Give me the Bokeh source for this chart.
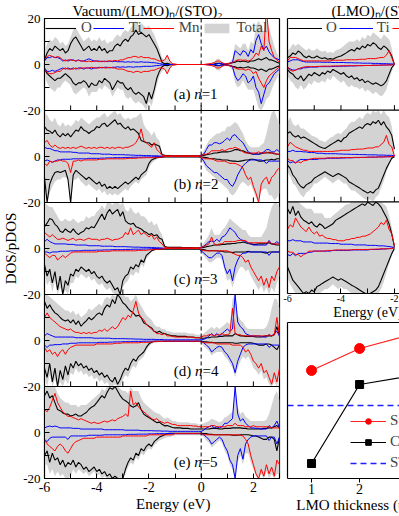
import math
from bokeh.plotting import figure
from bokeh.layouts import row, column
from bokeh.models import Range1d, FixedTicker, Span, Label, Legend, LegendItem, LinearAxis
from bokeh.embed import file_html
from bokeh.resources import INLINE

SERIF = "Liberation Serif"
O_COLOR, TI_COLOR, MN_COLOR, TOT_COLOR = "black", "#0000ff", "#ff0000", "#d3d3d3"
NBSP = "\u00a0"

# ---------------- data ----------------
ENERGY = [round(-6 + 0.1 * i, 1) for i in range(91)]      # left panels, -6 .. 3 eV
ENERGY_R = [round(-6 + 0.1 * i, 1) for i in range(41)]    # right panels, -6 .. -2 eV
E_LABELLED = [-6, -4, -2, 0, 2]
E_MINOR = [-5, -3, -1, 1, 3]
E_TICKS = E_LABELLED + E_MINOR
R_LABELLED = [-6, -4, -2]
R_MINOR = [-5, -3]
R_TICKS = R_LABELLED + R_MINOR

# panel (a) n=1
a_total_up = [6, 9, 11, 10, 12, 11, 9, 10, 8, 9,
              12, 15, 16, 14, 12, 10, 11, 12, 10, 11,
              10, 12, 10, 11, 9, 10, 10, 12, 13, 12,
              14, 15, 14, 16, 17, 19, 17, 18, 17, 16,
              17, 15, 13, 10, 7, 3, 2, 4.5, 2, 0.5,
              0.3, 0, 0, 0, 0, 0, 0, 0, 0, 0,
              0, 0, 0.3, 0.5, 0.8, 1.2, 2.5, 2.5, 1.2, 0.5,
              0.8, 1.2, 2.5, 9, 8, 7, 9, 9, 6, 10,
              9, 17, 19, 17, 14, 20, 16, 12, 8, 5,
              3]
a_total_dn = [-5, -8, -10, -11, -12, -10, -10, -8, -7, -8,
              -9, -12, -13, -12, -11, -10, -11, -14, -12, -12,
              -12, -10, -11, -9, -10, -11, -14, -12, -10, -11,
              -11, -14, -15, -14, -16, -17, -16, -17, -18, -20,
              -16, -18, -14, -9, -5, -3, -2, -4.5, -2, -0.5,
              -0.3, 0, 0, 0, 0, 0, 0, 0, 0, 0,
              0, 0, -0.3, -0.5, -0.8, -1.2, -2.5, -2.5, -1.2, -0.5,
              -0.8, -1.2, -2.5, -8, -10, -9, -7, -9, -11, -11,
              -11, -15, -19, -20, -18, -15, -14, -11, -8, -6,
              -4]
a_O_up = [2, 5, 7, 6, 8, 7, 6, 7, 5, 6,
          9, 11, 12, 10, 8, 6, 7, 8, 6, 7,
          6, 8, 6, 7, 5, 6, 6, 8, 9, 8,
          10, 11, 10, 12, 13, 15, 13, 14, 13, 12,
          13, 11, 9, 7, 4, 1, 0.3, 0.5, 0.2, 0,
          0, 0, 0, 0, 0, 0, 0, 0, 0, 0,
          0, 0, 0, 0, 0, 0.2, 0.5, 0.5, 0.2, 0,
          0.2, 0.5, 0.8, 1, 1.5, 1.2, 1.5, 1.3, 1, 1.5,
          1.5, 2, 2.5, 2, 2.5, 3, 2, 2, 1.5, 1,
          0.5]
a_O_dn = [-2, -4, -5, -6, -7, -6, -6, -5, -4, -5,
          -6, -8, -9, -8, -8, -7, -8, -10, -8, -9,
          -9, -7, -8, -6, -7, -8, -11, -9, -7, -8,
          -8, -10, -11, -10, -12, -13, -12, -13, -14, -17,
          -12, -15, -11, -6, -3, -1, -0.3, -0.5, -0.2, 0,
          0, 0, 0, 0, 0, 0, 0, 0, 0, 0,
          0, 0, 0, 0, 0, -0.2, -0.5, -0.5, -0.2, 0,
          -0.2, -0.5, -0.8, -1, -1.5, -1.2, -1.5, -1.3, -1, -1.5,
          -1.5, -2, -2.5, -2, -2.5, -3, -2, -2, -1.5, -1,
          -0.5]
a_Ti_up = [1.5, 3, 3, 3.5, 3, 3, 2.5, 1.5, 2, 1.5,
           2, 2, 1.5, 2, 1.5, 1.5, 2, 2.5, 2, 1.5,
           1.5, 1.5, 1.2, 1.5, 1.2, 1.5, 1.2, 1.5, 1.2, 1.2,
           1.2, 1, 1.2, 1, 1.2, 1, 1, 1.2, 1, 1,
           1, 0.8, 0.8, 0.6, 0.4, 0.2, 0, 0, 0, 0,
           0, 0, 0, 0, 0, 0, 0, 0, 0, 0,
           0, 0, 0, 0, 0, 0, 0.3, 0.5, 0.3, 0.2,
           0.3, 0.5, 1, 6, 5, 4, 6, 5.5, 3.5, 6.5,
           5, 10.5, 13, 9, 6.5, 8, 5.5, 4, 3, 2.5,
           2]
a_Ti_dn = [-1.5, -3, -3, -2.5, -3, -2.5, -2, -1.5, -2, -1.5,
           -2, -1.5, -2, -1.5, -1.5, -2, -1.5, -1.5, -2, -1.5,
           -1.5, -1.2, -1.5, -1.2, -1.2, -1.5, -1.2, -1.2, -1, -1.2,
           -1, -1.2, -1, -1, -1.2, -1, -1, -1, -0.8, -0.8,
           -0.8, -0.8, -0.6, -0.5, -0.4, -0.2, 0, 0, 0, 0,
           0, 0, 0, 0, 0, 0, 0, 0, 0, 0,
           0, 0, 0, 0, 0, 0, -0.3, -0.5, -0.3, -0.2,
           -0.3, -0.5, -1, -5, -7, -6, -4, -5, -8, -7,
           -5, -10, -12, -17, -13, -9, -8, -6, -4, -3,
           -2]
a_Mn_up = [2, 3.5, 4, 3.5, 3, 3.5, 3, 2, 1.5, 2,
           2, 1.8, 1.5, 1.8, 1.5, 1.5, 1.2, 1.5, 1.2, 1.5,
           1.5, 1.2, 1.5, 1.2, 1.5, 1.5, 1.5, 1.8, 1.5, 2,
           2, 2.5, 3, 3, 3.5, 3.5, 3, 3.5, 3, 3,
           3, 2.5, 2.5, 2, 1.5, 1.5, 2, 4, 1.5, 0.3,
           0.2, 0, 0, 0, 0, 0, 0, 0, 0, 0,
           0, 0, 0.2, 0.3, 0.5, 0.8, 1.5, 1.5, 0.8, 0.3,
           0.3, 0.5, 1, 1.5, 2, 2, 1.8, 2, 1.5, 2,
           3, 5, 4, 8, 6, 25, 10, 6, 3, 2,
           1]
a_Mn_dn = [-2, -3.5, -4, -4, -3.5, -3, -3, -2, -1.5, -2,
           -2, -2, -1.5, -2, -1.5, -1.5, -1.5, -1.5, -1.2, -1.5,
           -1.5, -1.5, -1.2, -1.5, -1.5, -1.2, -1.5, -1.5, -2, -2,
           -2, -2.5, -3, -3, -3.5, -3, -3, -3.5, -3, -3,
           -3, -2.5, -2.5, -2, -1.5, -1.5, -2, -4, -1.5, -0.3,
           -0.2, 0, 0, 0, 0, 0, 0, 0, 0, 0,
           0, 0, -0.2, -0.3, -0.5, -0.8, -1.5, -1.5, -0.8, -0.3,
           -0.3, -0.5, -1, -1.5, -2, -2, -2, -2.5, -2, -2.5,
           -4, -3, -6, -8, -10, -7, -5, -4, -3, -2,
           -1]

# panel (b) n=2
b_total_up = [19, 18, 16, 15, 17, 14, 13, 15, 13, 14,
              13, 14, 16, 15, 17, 16, 15, 14, 15, 16,
              17, 17, 18, 19, 17, 18, 19, 20, 18, 19,
              17, 16, 17, 16, 17, 17, 18, 19, 14, 12,
              11, 9, 11, 8, 7, 1.5, 1, 0.8, 0.8, 0.6,
              0.6, 0.6, 0.6, 0.6, 0.6, 0.6, 0.6, 0.6, 0.6, 0.6,
              1, 2.5, 5, 7, 8, 9, 10, 10, 11, 11,
              13, 13, 14, 15, 14, 12, 10, 7, 5, 4,
              4, 4, 4, 5, 6, 10, 15, 19, 20, 17,
              14]
b_total_dn = [-13, -20, -16, -13, -11, -10, -10, -9, -9, -10,
              -20, -10, -10, -9, -11, -12, -13, -12, -13, -14,
              -15, -14, -16, -15, -17, -16, -17, -16, -17, -16,
              -15, -14, -15, -13, -12, -11, -12, -10, -9, -8,
              -5, -3, -2, -1.2, -0.8, -0.6, -0.4, -0.4, -0.4, -0.4,
              -0.4, -0.4, -0.4, -0.4, -0.4, -0.4, -0.4, -0.4, -0.4, -0.4,
              -1, -3.5, -6, -7, -8, -9, -10, -11, -12, -13,
              -14, -16, -17, -16, -14, -12, -11, -12, -13, -12,
              -15, -18, -20, -15, -14, -14, -17, -17, -19, -18,
              -16]
b_O_up = [13, 11.5, 11, 10, 11.5, 9.5, 8.5, 10, 9, 10,
          8.5, 10, 11.5, 11, 13, 11.5, 11, 10, 11, 11.5,
          13, 12.5, 14, 14.5, 13, 14, 15, 16, 14, 14.5,
          13, 12, 13, 11.5, 12, 11, 10, 7, 6.5, 6,
          6, 5, 5.5, 5, 4.5, 0.8, 0.5, 0.4, 0.4, 0.3,
          0.3, 0.3, 0.3, 0.3, 0.3, 0.3, 0.3, 0.3, 0.3, 0.3,
          0.3, 0.5, 0.8, 1, 1.2, 1.5, 1.5, 1.8, 2, 2,
          2, 2.2, 2.5, 3, 3, 2.5, 2.5, 2, 1.5, 1.2,
          1, 1.2, 1, 1.2, 1.5, 1.5, 1.8, 1.5, 1.2, 1,
          1]
b_O_dn = [-9, -20, -12, -9, -7, -6.5, -7, -6.5, -6, -10,
          -20, -8, -6, -7, -8, -9, -10, -9, -10, -11,
          -12, -11, -13, -12, -14, -13, -14, -13, -14, -13,
          -12, -11, -12, -11, -10, -9, -10, -8, -7, -6,
          -3, -1.5, -1, -0.5, -0.3, -0.3, -0.2, -0.2, -0.2, -0.2,
          -0.2, -0.2, -0.2, -0.2, -0.2, -0.2, -0.2, -0.2, -0.2, -0.2,
          -0.2, -0.3, -0.5, -0.8, -1, -1, -1.2, -1.2, -1.5, -1.5,
          -1.5, -1.8, -2, -2, -2.2, -2, -1.8, -1.5, -1.5, -1.2,
          -1.2, -1.5, -2, -2, -1.8, -1.5, -1.5, -1.2, -1.5, -1,
          -1]
b_Ti_up = [4, 3.5, 3.5, 3, 2.5, 2.5, 2, 2, 2, 2,
           2, 1.8, 1.8, 1.5, 1.5, 1.5, 1.5, 1.5, 1.2, 1.2,
           1.2, 1.2, 1, 1, 1, 1, 0.8, 0.8, 0.8, 0.8,
           0.8, 0.7, 0.7, 0.6, 0.6, 0.5, 0.5, 0.5, 0.4, 0.4,
           0.4, 0.3, 0.3, 0.3, 0.2, 0.1, 0, 0, 0, 0,
           0, 0, 0, 0, 0, 0, 0, 0, 0, 0,
           0.5, 1, 3, 5, 5, 6, 6, 5.5, 6, 7,
           8, 7, 9, 9.5, 8, 7, 6, 4, 2, 1.5,
           1, 1, 1, 1.5, 2, 3, 3, 2, 2, 3,
           2]
b_Ti_dn = [-2, -1.5, -2, -2.5, -2, -1.5, -1.5, -1.2, -1.2, -1.2,
           -1.2, -1, -1, -1, -1, -1, -1, -0.8, -0.8, -0.8,
           -0.8, -0.8, -0.7, -0.7, -0.6, -0.6, -0.6, -0.5, -0.5, -0.5,
           -0.5, -0.4, -0.4, -0.4, -0.3, -0.3, -0.3, -0.3, -0.2, -0.2,
           -0.2, -0.2, -0.1, 0, 0, 0, 0, 0, 0, 0,
           0, 0, 0, 0, 0, 0, 0, 0, 0, 0,
           -0.5, -2, -4, -5, -6, -7, -7, -8, -9, -10,
           -10, -12, -13, -11, -8, -6, -4, -3, -2, -1.5,
           -1.5, -1.5, -1.5, -1.5, -2, -3, -2, -2, -2, -2,
           -2]
b_Mn_up = [6, 7, 5, 4, 5, 4, 3.5, 4, 3.5, 4,
           3.5, 4, 3.5, 4, 4.5, 4, 3.5, 4, 3.5, 4,
           3.5, 4, 4, 3.5, 4, 3.5, 4, 3.5, 4, 4,
           3.5, 4, 4, 4.5, 5, 6, 8, 12, 7, 6,
           5, 4, 6, 3, 2, 0.5, 0.4, 0.3, 0.3, 0.3,
           0.3, 0.3, 0.3, 0.3, 0.3, 0.3, 0.3, 0.3, 0.3, 0.3,
           0.3, 1, 1, 1.5, 2.5, 2.5, 2.5, 2.5, 3, 2.5,
           3, 3.5, 3.5, 4, 3.5, 3, 2, 1.5, 1.5, 1.5,
           1.5, 1.5, 2, 1.5, 1.5, 2, 1.5, 1.5, 1.5, 1,
           1]
b_Mn_dn = [-3, -4, -2, -2.5, -2, -2, -1.5, -2, -2, -3,
           -7, -2, -2, -1.5, -2, -1.5, -1.5, -1.5, -1.5, -1.5,
           -1.5, -1.2, -1.2, -1.2, -1, -1, -1, -1, -1, -1,
           -1, -1, -0.8, -0.8, -0.8, -0.8, -0.6, -0.6, -0.6, -0.5,
           -0.5, -0.5, -0.5, -0.4, -0.3, -0.2, 0, 0, 0, 0,
           0, 0, 0, 0, 0, 0, 0, 0, 0, 0,
           -0.3, -1, -1, -1, -1, -1.5, -2, -2, -2, -2,
           -2.5, -3, -3, -3, -3.5, -4, -5, -8, -10, -9,
           -13, -16, -20, -12, -10, -9, -12, -9, -8, -6,
           -5]

# panel (c) n=3
c_total_up = [20, 19, 18, 18, 16, 14, 12, 12, 13, 12,
              12, 13, 12, 11, 12, 12, 14, 13, 14, 14,
              16, 17, 19, 17, 20, 20, 19, 20, 20, 19,
              20, 17, 16, 18, 16, 15, 16, 14, 14, 13,
              11, 12, 10, 11, 8, 6, 1.5, 0.8, 0.8, 0.8,
              0.8, 0.8, 0.8, 0.7, 0.7, 0.7, 0.7, 0.6, 0.6, 0.6,
              1, 2.5, 4, 6, 9, 6, 6, 6, 8, 9,
              11, 13, 12, 11, 10, 9, 8, 8, 6, 5,
              5, 5, 5, 5, 7, 9, 14, 18, 20, 20,
              18]
c_total_dn = [-11, -16, -14, -19, -14, -20, -17, -20, -18, -20,
              -15, -15, -12, -13, -11, -12, -13, -12, -14, -13,
              -15, -16, -15, -17, -18, -17, -19, -20, -20, -20,
              -17, -15, -14, -11, -12, -10, -11, -7, -8, -4.5,
              -3, -1.5, -1, -0.6, -0.6, -0.5, -0.4, -0.4, -0.4, -0.4,
              -0.4, -0.4, -0.4, -0.4, -0.4, -0.4, -0.4, -0.4, -0.4, -0.4,
              -1.5, -3, -4.5, -6, -6, -5, -4, -4, -5, -10,
              -14, -13, -17, -13, -10, -8, -8, -10, -9, -12,
              -14, -16, -18, -16, -19, -17, -20, -17, -19, -15,
              -12]
c_O_up = [9.5, 11, 13, 12.5, 10.5, 9.5, 7.5, 7, 8.5, 7.5,
          7, 8.5, 7, 6, 7, 7.5, 9, 8.5, 9.5, 9,
          11, 13, 15, 12.5, 15.5, 17, 15, 16, 17, 14,
          16, 12, 11, 10.5, 11, 9.5, 9, 8.5, 7.5, 7,
          6, 6.5, 5.5, 6, 4.5, 4, 1, 0.5, 0.5, 0.5,
          0.5, 0.5, 0.5, 0.4, 0.4, 0.4, 0.4, 0.3, 0.3, 0.3,
          0.3, 0.5, 0.8, 1, 1.2, 1.5, 1.5, 1.5, 1.8, 1.8,
          2, 2, 2.2, 2.2, 2.5, 2.5, 2.8, 2.5, 2.2, 2,
          1.8, 1.8, 2, 2, 2, 2.2, 2.5, 2, 1.8, 1.5,
          1.5]
c_O_dn = [-7, -12, -9, -15, -10, -18, -12, -20, -14, -16,
          -11, -12, -9, -10, -8, -9, -10, -9, -11, -10,
          -12, -13, -12, -14, -15, -14, -16, -18, -17, -20,
          -14, -12, -11, -8, -9, -7, -8, -5, -6, -3,
          -2, -1, -0.5, -0.3, -0.3, -0.3, -0.3, -0.3, -0.3, -0.3,
          -0.3, -0.3, -0.3, -0.3, -0.3, -0.3, -0.3, -0.3, -0.3, -0.3,
          -0.3, -0.5, -0.8, -1, -1, -1, -1, -1.2, -1.2, -1.5,
          -1.5, -1.5, -1.8, -1.5, -1.5, -1.5, -1.5, -1.5, -1.2, -1.5,
          -1.5, -1.5, -1.5, -1.5, -1.8, -2, -1.5, -1.5, -1.5, -1.5,
          -1.5]
c_Ti_up = [3, 4, 3, 2.5, 2, 2, 2, 2, 2, 1.8,
           1.8, 1.8, 1.5, 1.5, 1.5, 1.5, 1.5, 1.2, 1.2, 1.2,
           1.2, 1.2, 1, 1, 1, 1, 1, 0.8, 0.8, 0.8,
           0.8, 0.8, 0.7, 0.7, 0.6, 0.6, 0.6, 0.5, 0.5, 0.5,
           0.5, 0.4, 0.4, 0.3, 0.3, 0.2, 0.1, 0, 0, 0,
           0, 0, 0, 0, 0, 0, 0, 0, 0, 0,
           0.5, 1, 2, 3, 3.2, 3, 4, 3, 5, 5.5,
           7, 9, 8, 7, 5, 4, 3.5, 3, 2.5, 2,
           1.5, 1.5, 1.5, 1.5, 1.5, 1.5, 3.5, 2, 2, 3,
           2]
c_Ti_dn = [-1.5, -1.5, -2, -1.5, -1.5, -1.5, -1.2, -1.2, -1.2, -1.2,
           -1, -1, -1, -1, -1, -0.8, -0.8, -0.8, -0.8, -0.8,
           -0.7, -0.7, -0.7, -0.6, -0.6, -0.6, -0.5, -0.5, -0.5, -0.5,
           -0.5, -0.4, -0.4, -0.4, -0.3, -0.3, -0.3, -0.3, -0.2, -0.2,
           -0.2, -0.1, 0, 0, 0, 0, 0, 0, 0, 0,
           0, 0, 0, 0, 0, 0, 0, 0, 0, 0,
           -1, -2, -3, -4, -4, -3, -2, -2, -3, -8,
           -11, -9, -14, -8, -5, -3, -2, -2, -1.5, -1.5,
           -1.5, -1.5, -1.5, -1.5, -1.5, -1.5, -3, -1.5, -1.5, -1.5,
           -1.5]
c_Mn_up = [7, 6, 5, 6, 5, 4, 4, 4.5, 4, 3.5,
           4, 4.5, 3.5, 4, 4, 3.5, 4, 4.5, 4, 4,
           4, 3.5, 4, 4, 4.5, 4, 3.5, 4, 4, 4.5,
           5, 7, 6, 9, 6, 7, 8, 6, 7, 6,
           5, 6, 4, 5, 3, 2, 0.5, 0.3, 0.3, 0.3,
           0.3, 0.3, 0.3, 0.3, 0.3, 0.3, 0.3, 0.3, 0.3, 0.3,
           0.3, 1, 1.5, 2, 5, 2, 1.5, 2, 2, 3,
           3, 3, 3, 3, 3.5, 3.5, 3.5, 3.5, 2.5, 2.5,
           2.5, 2.5, 2.5, 2.5, 2.5, 2.5, 3, 2, 2, 2,
           2]
c_Mn_dn = [-2, -3, -4, -3, -3, -5, -4, -3, -4, -3,
           -2, -1.5, -1.5, -1.5, -1.5, -1.5, -1.5, -1.5, -1.5, -1.5,
           -1.5, -1.2, -1.2, -1.2, -1.2, -1.2, -1, -1, -1, -1,
           -1, -1, -1, -1, -1, -1, -0.8, -0.8, -0.8, -0.8,
           -0.6, -0.5, -0.5, -0.4, -0.3, -0.2, 0, 0, 0, 0,
           0, 0, 0, 0, 0, 0, 0, 0, 0, 0,
           -0.5, -1, -1, -1, -1, -1, -1, -1, -1, -1,
           -1, -1.5, -2, -2.5, -3, -3, -4, -6, -5, -8,
           -10, -12, -14, -12, -16, -13, -17, -12, -14, -10,
           -8]

# panel (d) n=4
d_total_up = [20, 20, 19, 18, 17, 16, 15, 14, 13, 13,
              12, 13, 11, 12, 10, 11, 12, 14, 13, 14,
              15, 16, 15, 18, 19, 18, 20, 19, 20, 20,
              20, 19, 19, 17, 18, 20, 17, 15, 13, 11,
              10, 9, 7, 6, 6, 5, 5, 4, 4, 3.5,
              3.5, 3.5, 3.5, 3.5, 3.5, 3, 3, 3, 2.5, 2.5,
              2.5, 3, 4, 5, 6, 5, 6, 5, 6, 7,
              8, 7, 18, 20, 11, 9, 8, 6, 5, 5,
              5, 5, 5, 5, 5, 6, 9, 14, 18, 18,
              14]
d_total_dn = [-16, -20, -15, -20, -17, -20, -18, -20, -17, -19,
              -14, -15, -12, -14, -13, -15, -14, -16, -15, -17,
              -16, -18, -17, -19, -18, -20, -20, -19, -20, -20,
              -17, -15, -16, -13, -11, -12, -9, -8, -7, -4.5,
              -2.5, -1.5, -1, -0.8, -0.8, -0.7, -0.6, -0.6, -0.6, -0.6,
              -0.6, -0.6, -0.6, -0.6, -0.6, -0.6, -0.6, -0.6, -0.6, -0.6,
              -1, -2.5, -3.5, -4.5, -6.5, -5.5, -5, -5, -5, -7,
              -8, -10, -12, -16, -12, -9, -7, -8, -7, -9,
              -12, -13, -15, -13, -17, -16, -19, -20, -18, -20,
              -16]
d_O_up = [17, 14, 15.5, 13.5, 12, 11.3, 10, 9, 8.5, 9,
          7.7, 9, 7, 8.5, 6.2, 7.5, 8.5, 10, 9, 10,
          11.3, 12, 11, 14, 15.5, 14.5, 17.8, 16, 20, 18.5,
          16.4, 15.5, 14, 12.8, 12, 10.6, 11, 10, 7.7, 7,
          6.2, 5.5, 4, 3.5, 4, 3.3, 3, 2.6, 2.3, 2,
          2, 1.8, 1.8, 1.8, 1.8, 1.5, 1.5, 1.5, 1.2, 1.2,
          1, 1, 1.2, 1.2, 1.5, 1.5, 1.5, 1.8, 1.8, 2,
          2, 2, 2, 3, 2.5, 2, 2, 1.8, 1.8, 1.8,
          1.8, 1.5, 1.5, 1.5, 1.8, 2, 2, 2, 2.5, 6,
          2]
d_O_dn = [-12, -16, -10, -18, -12, -20, -13, -17, -11, -15,
          -10, -12, -9, -11, -10, -12, -11, -13, -12, -14,
          -13, -15, -14, -16, -15, -17, -18, -16, -19, -17,
          -14, -12, -13, -10, -8, -9, -7, -6, -5, -3,
          -1.5, -0.7, -0.3, -0.3, -0.3, -0.3, -0.3, -0.3, -0.3, -0.3,
          -0.3, -0.3, -0.3, -0.3, -0.3, -0.3, -0.3, -0.3, -0.3, -0.3,
          -0.3, -0.5, -0.6, -0.8, -0.8, -1, -1, -1, -1, -1,
          -1, -1, -1, -1.2, -1.2, -1, -1, -1, -1, -1,
          -1.2, -1.5, -2, -2, -2, -1.5, -1.5, -2, -3, -4,
          -2]
d_Ti_up = [2, 3, 2.5, 2, 1.5, 1.5, 1.5, 1.5, 1.5, 1.5,
           1.5, 1.5, 1.2, 1.2, 1.2, 1.2, 1.2, 1.2, 1.2, 1,
           1, 1, 1, 1, 1, 1, 0.8, 0.8, 0.8, 0.8,
           0.8, 0.8, 0.7, 0.7, 0.7, 0.6, 0.6, 0.6, 0.5, 0.5,
           0.5, 0.5, 0.5, 0.4, 0.4, 0.4, 0.3, 0.3, 0.3, 0.3,
           0.3, 0.3, 0.3, 0.3, 0.3, 0.3, 0.3, 0.3, 0.3, 0.3,
           0.3, 0.5, 1, 2, 3, 2, 3, 2, 3, 4,
           5, 4, 5, 20, 8, 6, 5, 3, 2.5, 2,
           2, 2, 2, 1.8, 1.5, 1.5, 2.5, 2, 3, 4,
           2]
d_Ti_dn = [-2, -3, -2, -2, -1.8, -1.8, -1.8, -1.5, -1.5, -1.5,
           -1.2, -1.2, -1.2, -1, -1, -1, -1, -1, -1, -1,
           -1, -0.8, -0.8, -0.8, -0.8, -0.7, -0.7, -0.6, -0.6, -0.6,
           -0.5, -0.5, -0.5, -0.5, -0.4, -0.4, -0.4, -0.4, -0.3, -0.3,
           -0.3, -0.3, -0.3, -0.3, -0.3, -0.3, -0.3, -0.3, -0.3, -0.3,
           -0.3, -0.3, -0.3, -0.3, -0.3, -0.3, -0.3, -0.3, -0.3, -0.3,
           -0.3, -1, -2, -3, -5, -4, -3, -2.5, -3, -5,
           -6, -8, -10, -14, -9, -6, -3, -2, -1.5, -1.5,
           -1.5, -1.5, -1.5, -1.5, -1.5, -1.5, -3, -2, -2, -2,
           -2]
d_Mn_up = [10, 12, 10, 9, 8, 7, 6, 5.5, 5, 4.5,
           5, 4, 3.5, 3.5, 3, 3.5, 3, 3.5, 3, 3.5,
           3.5, 4.5, 4, 5, 4, 5, 6, 5, 6, 8,
           10, 9, 11, 10, 13, 17, 12, 10, 9, 7,
           6, 5, 4, 3, 3, 2.5, 3, 2, 2, 1.8,
           1.5, 1.5, 1.5, 1.5, 1.5, 1.5, 1.5, 1.2, 1.2, 1.2,
           1.5, 2, 2, 2.5, 2.5, 2, 2.5, 2.5, 3, 2.5,
           2.5, 3, 14, 3, 2.5, 2.5, 2, 2, 2, 2,
           2, 2, 2, 2, 2, 2, 2.5, 2, 2.5, 10,
           2]
d_Mn_dn = [-3, -5, -4, -6, -5, -7, -5, -4, -6, -4,
           -3, -2.5, -2, -2, -2, -2, -2, -2, -2, -2,
           -1.5, -1.5, -1.5, -1.5, -1.5, -1.5, -1.5, -1.2, -1.2, -1.2,
           -1, -1, -1, -1, -1, -1, -1, -0.8, -0.8, -0.8,
           -0.8, -0.6, -0.5, -0.5, -0.4, -0.4, -0.3, -0.3, -0.3, -0.3,
           -0.3, -0.3, -0.3, -0.3, -0.3, -0.3, -0.3, -0.3, -0.3, -0.3,
           -0.5, -1, -1, -1, -1, -1, -1.5, -1.5, -1.5, -1.5,
           -1.5, -1.5, -2, -2, -2, -2, -3, -5, -4, -6,
           -9, -10, -12, -10, -14, -13, -16, -19, -14, -18,
           -12]

# panel (e) n=5
e_total_up = [20, 20, 20, 20, 20, 17, 15, 14, 13, 13,
              12, 12, 12, 11, 12, 12, 12, 13, 14, 15,
              16, 17, 19, 18, 20, 20, 20, 20, 20, 19,
              18, 18, 17, 20, 18, 18, 18, 15, 13, 12,
              11, 10, 9, 8.5, 8, 7, 6, 6.5, 6, 5,
              5, 4.5, 4.5, 4.5, 4.5, 4.5, 4, 4, 4, 3.5,
              3.5, 4, 4.5, 5, 6, 5.5, 5, 4.5, 5, 6.5,
              7, 8, 9, 20, 11, 8, 9, 7, 6, 5,
              5, 5, 5, 5, 5, 5.5, 8, 12, 16, 18,
              14]
e_total_dn = [-14, -14, -18, -16, -19, -17, -19, -18, -20, -20,
              -19, -16, -18, -16, -17, -18, -17, -19, -18, -17,
              -19, -18, -20, -19, -20, -20, -20, -20, -20, -20,
              -20, -18, -15, -13, -14, -11, -12, -9, -10, -8,
              -7, -7.5, -5.5, -4.5, -3.5, -3, -2.5, -2, -2, -1.5,
              -1.2, -1.2, -1.2, -1.2, -1.2, -1.2, -1.2, -1.2, -1.2, -1.2,
              -1.2, -2, -3.5, -4.5, -6.5, -5.5, -4.5, -3.5, -4.5, -8,
              -10, -14, -16, -20, -13, -10, -14, -9, -9, -13,
              -16, -19, -20, -18, -20, -17, -20, -18, -20, -18,
              -18]
e_O_up = [16, 18, 15, 16, 13, 10, 9.5, 8.5, 8, 8,
          7.2, 7.5, 8, 7.2, 7.2, 8, 8.7, 10, 11, 11.6,
          13, 14.5, 16, 15, 17.5, 19.5, 18.8, 20, 18, 16,
          14.5, 13.8, 13, 11.6, 11, 11.6, 13, 10, 8, 7.2,
          6.5, 5.8, 5, 4.3, 4.5, 3.6, 2.9, 3, 2.6, 2.2,
          2, 2, 2, 1.8, 1.8, 1.8, 1.5, 1.5, 1.5, 1.5,
          1.5, 1.5, 1.5, 1.5, 1.8, 1.8, 1.8, 1.5, 1.5, 1.8,
          1.8, 1.8, 2, 2, 2, 2, 1.8, 1.8, 1.5, 1.5,
          1.5, 1.5, 1.5, 1.5, 1.8, 1.8, 2, 2, 2.5, 3,
          2]
e_O_dn = [-10, -8, -13, -9, -12, -11, -14, -12, -15, -13,
          -14, -12, -15, -13, -14, -16, -15, -17, -16, -15,
          -17, -16, -18, -17, -19, -18, -20, -19, -20, -20,
          -20, -16, -13, -11, -12, -9, -10, -7, -8, -6,
          -5, -6, -4, -3, -2, -1.5, -1, -0.5, -0.4, -0.3,
          -0.3, -0.3, -0.3, -0.3, -0.3, -0.3, -0.3, -0.3, -0.3, -0.3,
          -0.3, -0.5, -0.5, -0.8, -0.8, -1, -1, -1, -1, -1,
          -1, -1, -1.2, -1.2, -1.2, -1, -1, -1, -1, -1.2,
          -1.5, -1.5, -2, -2.5, -3, -3, -2, -2, -3, -8,
          -2]
e_Ti_up = [2, 2.5, 2.8, 2.5, 2.8, 2.5, 2, 2, 2, 2,
           2, 1.8, 1.8, 1.8, 1.5, 1.5, 1.5, 1.5, 1.5, 1.5,
           1.5, 1.5, 1.5, 1.2, 1.2, 1.2, 1.2, 1.2, 1.2, 1.2,
           1.2, 1, 1, 1, 1, 1, 1, 0.8, 0.8, 0.8,
           0.8, 0.8, 0.7, 0.7, 0.7, 0.6, 0.6, 0.6, 0.5, 0.5,
           0.5, 0.5, 0.5, 0.5, 0.5, 0.5, 0.5, 0.5, 0.5, 0.5,
           0.5, 1, 2, 2.5, 3, 2, 2.5, 2, 2.5, 4,
           4, 5, 6, 20, 8, 5, 6, 4, 3, 2,
           2, 1.8, 1.8, 1.5, 1.5, 1.5, 3, 2, 3, 5,
           2]
e_Ti_dn = [-3, -4, -2.5, -2, -2, -2, -2, -2, -2, -3,
           -1.5, -1.5, -1.5, -1.5, -1.5, -1.5, -1.5, -1.2, -1.2, -1.2,
           -1.2, -1.2, -1.2, -1, -1, -1, -1, -1, -1, -1,
           -1, -1, -0.8, -0.8, -0.8, -0.8, -0.7, -0.7, -0.7, -0.7,
           -0.6, -0.6, -0.6, -0.5, -0.5, -0.5, -0.5, -0.5, -0.5, -0.5,
           -0.5, -0.5, -0.5, -0.5, -0.5, -0.5, -0.5, -0.5, -0.5, -0.5,
           -0.5, -1, -2, -3, -5, -4, -3, -2, -3, -6,
           -8, -12, -14, -20, -10, -7, -11.6, -5, -3, -2,
           -1.5, -1.5, -1.5, -1.5, -1.5, -1.5, -3.5, -2, -2, -5,
           -2]
e_Mn_up = [10, 9, 11, 14, 17, 13, 11, 9, 8, 7,
           7, 6.5, 6, 5.5, 6, 5.5, 5, 4.5, 4, 4.5,
           4, 4, 4.5, 5, 4.5, 5, 5.5, 5, 6, 6.5,
           7, 8, 7, 18, 12, 13, 11, 10, 9, 8,
           7, 6, 5.5, 6, 5, 4.5, 4, 4.5, 4, 3.5,
           3.5, 3, 3, 3, 3, 3, 3, 2.8, 2.8, 2.5,
           2.5, 2.5, 2.5, 2.5, 3, 3, 2.5, 2.5, 2.5, 2.5,
           3, 3, 3, 4, 3, 3, 3, 2.5, 2.5, 2.5,
           3, 2.5, 2.5, 2.5, 2.5, 2.5, 2.5, 2, 2, 2,
           2]
e_Mn_dn = [-3, -5, -6, -7, -8, -6, -5, -6, -8, -9,
           -7, -5, -4, -3.5, -3, -2.5, -2.5, -2.5, -2.5, -2.5,
           -2, -2, -2, -2, -2, -2, -2, -2, -2, -2,
           -1.5, -1.5, -1.5, -1.5, -1.5, -1.5, -1.5, -1.5, -1.5, -1.5,
           -1, -1, -1, -1, -1, -1, -1, -1, -1, -1,
           -0.5, -0.5, -0.5, -0.5, -0.5, -0.5, -0.5, -0.5, -0.5, -0.5,
           -0.5, -1, -1, -1, -1, -1, -1, -1, -1, -1,
           -1, -1, -1, -1, -1, -1.2, -1.5, -3, -5, -10,
           -14, -18, -20, -16, -19, -14, -18, -15, -19, -12,
           -14]

# right column, top panel
ra_total_up = [6, 7, 9, 8, 9, 8, 7, 6, 7, 6,
               6, 7, 6, 5.5, 6, 5, 5.5, 5, 6, 6.5,
               7, 8, 9, 10, 10, 10, 11, 10, 12, 11,
               13, 12, 14, 13, 12, 11, 13, 12, 11, 7,
               0]
ra_total_dn = [-5, -7, -8, -10, -11, -9, -11, -10, -8, -9,
               -7, -8, -8, -7, -8, -6, -7, -5, -6, -7,
               -8, -7, -9, -10, -9, -10, -10, -11, -10, -12,
               -11, -12, -13, -12, -13, -14, -13, -11, -7, -3,
               0]
ra_O_up = [2.9, 3.6, 5, 4.3, 5.8, 5, 3.6, 2.9, 3.6, 2.9,
           2.9, 3.6, 2.9, 2.5, 2.9, 2.2, 2.5, 2.2, 2.9, 3.3,
           3.6, 4.3, 5, 5.8, 6.5, 5.8, 7.2, 6.5, 8, 7.2,
           8.7, 8, 9.4, 8.7, 7.2, 6.5, 8, 7.2, 5.8, 3.6,
           0]
ra_O_dn = [-2.2, -3.6, -4.3, -5.8, -6.5, -5, -7.2, -5.8, -4.3, -5,
           -3.6, -4.3, -5, -3.6, -4.3, -2.9, -3.6, -2.2, -2.9, -3.6,
           -4.3, -3.6, -5, -5.8, -5, -6.5, -5.8, -7.2, -6.5, -8,
           -7.2, -8, -8.7, -8, -8.7, -9.4, -8.7, -7.2, -4.3, -1.5,
           0]
ra_Ti_up = [1, 1.5, 2, 2, 2, 1.5, 1.2, 1, 1, 1,
            1, 1, 1, 0.9, 0.9, 0.9, 0.9, 0.8, 0.8, 0.8,
            0.8, 0.8, 0.7, 0.7, 0.7, 0.6, 0.6, 0.6, 0.5, 0.5,
            0.5, 0.5, 0.4, 0.4, 0.4, 0.3, 0.3, 0.3, 0.2, 0.2,
            0]
ra_Ti_dn = [-1.5, -2, -2.5, -2.5, -2, -2, -1.5, -1.5, -1.2, -1.2,
            -1.2, -1.2, -1, -1, -1, -1, -1, -0.9, -0.9, -0.9,
            -0.8, -0.8, -0.8, -0.7, -0.7, -0.7, -0.6, -0.6, -0.6, -0.5,
            -0.5, -0.5, -0.4, -0.4, -0.4, -0.3, -0.3, -0.3, -0.2, -0.2,
            0]
ra_Mn_up = [1.5, 3, 3, 3, 2.5, 2, 1.5, 1.5, 1.5, 1.5,
            1.5, 1.5, 1.5, 1.5, 1.5, 1.5, 1.5, 1.8, 1.8, 1.8,
            1.8, 1.8, 2, 2, 2, 2, 2, 2.2, 2.2, 2.2,
            2.5, 2.5, 2.5, 2.5, 2.8, 3, 3, 4, 6, 3,
            0]
ra_Mn_dn = [-1, -2.5, -3, -2.5, -2, -1.5, -1.2, -1, -1, -1,
            -1, -0.9, -0.9, -0.8, -0.8, -0.8, -0.8, -0.7, -0.7, -0.7,
            -0.7, -0.6, -0.6, -0.6, -0.6, -0.6, -0.6, -0.5, -0.5, -0.5,
            -0.5, -0.5, -0.4, -0.4, -0.4, -0.4, -0.3, -0.3, -0.3, -0.3,
            0]

# right column, middle panel
rb_total_up = [15, 17, 14, 13, 14, 12, 12, 11, 10, 9,
               8.5, 8, 7, 6.5, 6, 7, 8, 8.5, 9.5, 10,
               9.5, 11, 12, 14, 15, 15, 16, 17, 16, 18,
               19, 18, 20, 19, 20, 18, 20, 18, 17, 13,
               3]
rb_total_dn = [-7, -9, -12, -13, -15, -17, -18, -16, -15, -14,
               -12, -12, -11, -10, -9, -10, -11, -12, -11, -10,
               -11, -12, -12, -14, -15, -15, -16, -17, -18, -19,
               -19, -19, -20, -18, -17, -14, -11, -7, -4, -1.5,
               -0.5]
rb_O_up = [9.9, 10.6, 9, 8.3, 9, 7.7, 8.3, 7.7, 7, 6.2,
           5.5, 4.8, 4, 3.6, 3.3, 4, 4.8, 5.5, 6.2, 7,
           6.2, 7.7, 8.3, 9.9, 10.6, 11.3, 12, 12.7, 12, 13.5,
           14.2, 13.5, 15, 14.2, 15.6, 13.5, 15, 12.7, 11.3, 9,
           3]
rb_O_dn = [-4, -5.4, -8.3, -9.7, -11.9, -13.3, -14, -12.6, -11.9, -11.2,
           -9.7, -9, -8.3, -7.6, -6.9, -7.6, -8.3, -9, -8.3, -7.6,
           -8.3, -9, -9.7, -11.2, -11.9, -12.6, -13.3, -14, -14.8, -15.5,
           -16.2, -15.5, -16.2, -14.8, -14, -11.2, -8.3, -5.4, -3.2, -1,
           -0.3]
rb_Ti_up = [2, 2, 2.5, 2, 2, 2, 1.8, 1.8, 1.5, 1.5,
            1.5, 1.2, 1.2, 1.2, 1, 1, 1, 1, 1, 0.9,
            0.9, 0.8, 0.8, 0.8, 0.7, 0.7, 0.7, 0.6, 0.6, 0.6,
            0.5, 0.5, 0.5, 0.5, 0.4, 0.4, 0.4, 0.3, 0.3, 0.3,
            0]
rb_Ti_dn = [-2, -3, -2.5, -3, -2, -1.5, -1.5, -1.5, -1.5, -1.5,
            -1.5, -1.5, -1.2, -1.2, -1.2, -1, -1, -1, -1, -1,
            -0.9, -0.9, -0.8, -0.8, -0.8, -0.7, -0.7, -0.7, -0.6, -0.6,
            -0.6, -0.5, -0.5, -0.5, -0.4, -0.4, -0.4, -0.3, -0.3, -0.3,
            0]
rb_Mn_up = [4, 6, 5, 4, 3.5, 3, 2.5, 2.5, 2, 2,
            2, 2, 2, 2, 2, 2, 2, 2, 2.2, 2.2,
            2.5, 2.5, 2.5, 2.5, 2.8, 2.8, 3, 3, 3, 3.2,
            3.5, 3.5, 3.5, 4, 4, 5, 6, 9, 5, 4,
            0]
rb_Mn_dn = [-1, -2, -2, -3, -2.5, -3, -2, -2, -1.5, -1.2,
            -1, -1, -1, -1, -1, -0.8, -0.8, -0.8, -0.8, -0.8,
            -0.7, -0.7, -0.7, -0.7, -0.7, -0.6, -0.6, -0.6, -0.6, -0.6,
            -0.5, -0.5, -0.5, -0.5, -0.4, -0.4, -0.4, -0.3, -0.3, -0.3,
            0]

# right column, lower panel
rc_total_up = [20, 20, 20, 20, 20, 19, 18, 17, 17, 17,
               15, 15, 15, 15, 13, 13, 13, 14, 15, 16,
               17, 18, 19, 19, 20, 20, 20, 20, 20, 20,
               20, 20, 20, 20, 20, 20, 19, 18, 14, 9,
               1]
rc_total_dn = [-13, -16, -18, -20, -20, -20, -20, -20, -20, -20,
               -20, -20, -20, -19, -18, -18, -17, -16, -17, -18,
               -17, -18, -18, -19, -20, -20, -20, -20, -20, -20,
               -20, -20, -20, -20, -20, -18, -15, -11, -7, -3.5,
               -0.5]
rc_O_up = [17, 14.8, 18, 14, 16, 13.3, 12, 11.3, 10.4, 11.3,
           9.7, 9, 10.4, 9.7, 8.3, 9, 9.7, 10.4, 11.9, 12.6,
           13.3, 14, 14.8, 15.5, 16.2, 17, 17.7, 18.4, 19.1, 18.4,
           19.9, 19.1, 18.4, 19.9, 19.1, 17.7, 15.5, 13.3, 10.4, 6,
           0.3]
rc_O_dn = [-8.4, -11.3, -14.2, -15.6, -17, -18.5, -20, -19.2, -20, -18.5,
           -19.2, -17, -16.4, -15.6, -14.9, -14.2, -13.5, -12.8, -13.5, -14.2,
           -13.5, -14.2, -14.9, -15.6, -16.4, -17, -17.7, -18.5, -19.2, -19.9,
           -20, -19.9, -19.2, -18.5, -17, -14.2, -11.3, -8.4, -5.5, -2.6,
           -0.4]
rc_Ti_up = [3, 3, 3.5, 3, 3, 3, 2.5, 2.5, 2.5, 2.5,
            2, 2, 2, 2, 2, 2, 1.8, 1.8, 1.8, 1.8,
            1.5, 1.5, 1.5, 1.5, 1.5, 1.2, 1.2, 1.2, 1.2, 1.2,
            1, 1, 1, 1, 0.8, 0.8, 0.8, 0.6, 0.5, 0.3,
            0]
rc_Ti_dn = [-3, -3.5, -2.5, -3.5, -2.5, -2.5, -2.5, -2.5, -2, -2,
            -1.5, -1.5, -1.5, -1.5, -1.5, -1.5, -1.5, -1.2, -1.2, -1.2,
            -1.2, -1.2, -1.2, -1.2, -1, -1, -1, -1, -1, -1,
            -1, -0.8, -0.8, -0.8, -0.8, -0.6, -0.6, -0.5, -0.4, -0.3,
            0]
rc_Mn_up = [8, 10, 9, 13, 11, 9, 8, 7, 9, 7,
            6, 7, 5, 5.5, 4.5, 4, 4, 3.5, 3.5, 3,
            3, 3, 3.5, 3.5, 4, 4, 4.5, 4.5, 5, 5,
            5.5, 6, 7, 8, 9, 11, 10, 12, 8, 6,
            1]
rc_Mn_dn = [-1.5, -2, -2, -3, -3, -4, -3, -2.5, -1.5, -1.5,
            -1.5, -1.5, -1.5, -1.5, -1.5, -1.2, -1.2, -1.2, -1, -1,
            -1, -1, -1, -1, -1, -0.8, -0.8, -0.8, -0.8, -0.8,
            -0.8, -0.7, -0.7, -0.6, -0.6, -0.5, -0.5, -0.5, -0.4, -0.4,
            0]

# bottom-right panel
thickness = [1, 2, 3, 4, 5]
surface_vals = [1.08, 1.30, 1.43, 1.50, 1.55]
central_vals = [0.15, 0.94, 1.02, 1.05, 1.07]
sto_level = 0.73
legend_names_br = ["Surface", "Central", "STO"]


# ---------------- helpers ----------------
def draw_dos(p, E, rng, tot_up, tot_dn, o_up, o_dn, ti_up, ti_dn, mn_up, mn_dn):
    for name, arr in [("tot_up", tot_up), ("tot_dn", tot_dn), ("o_up", o_up), ("o_dn", o_dn),
                      ("ti_up", ti_up), ("ti_dn", ti_dn), ("mn_up", mn_up), ("mn_dn", mn_dn)]:
        if len(arr) != len(E):
            raise ValueError(f"{rng} {name}: {len(arr)} != {len(E)}")
    r_tot = p.varea(x=E, y1=tot_dn, y2=tot_up, fill_color=TOT_COLOR, y_range_name=rng)
    r_o = p.line(E, o_up, line_color=O_COLOR, line_width=1.1, y_range_name=rng)
    p.line(E, o_dn, line_color=O_COLOR, line_width=1.1, y_range_name=rng)
    r_ti = p.line(E, ti_up, line_color=TI_COLOR, line_width=1.0, y_range_name=rng)
    p.line(E, ti_dn, line_color=TI_COLOR, line_width=1.0, y_range_name=rng)
    r_mn = p.line(E, mn_up, line_color=MN_COLOR, line_width=1.0, y_range_name=rng)
    p.line(E, mn_dn, line_color=MN_COLOR, line_width=1.0, y_range_name=rng)
    return r_o, r_ti, r_mn, r_tot


def style_axis(ax, size="14px"):
    ax.major_label_text_font = SERIF
    ax.major_label_text_font_size = size
    ax.major_label_text_color = "black"
    ax.axis_line_color = "black"
    ax.major_tick_line_color = "black"
    ax.minor_tick_line_color = "black"
    ax.axis_label_text_font = SERIF
    ax.axis_label_text_font_style = "normal"
    ax.axis_label_text_color = "black"


def bare_axis():
    return LinearAxis(ticker=FixedTicker(ticks=[]), major_tick_in=0, major_tick_out=0,
                      minor_tick_in=0, minor_tick_out=0, major_label_standoff=0,
                      axis_line_width=1.2, axis_line_color="black")


def style_title(p, text, offset, size="15px"):
    p.title.text = text
    p.title.align = "left"
    p.title.offset = offset
    p.title.standoff = 0
    p.title.text_font = SERIF
    p.title.text_font_size = size
    p.title.text_font_style = "normal"
    p.title.text_color = "black"


# ---------------- left column ----------------
left = figure(width=283, height=516, x_range=Range1d(-6, 3), y_range=Range1d(-20, 180),
              output_backend="svg", toolbar_location=None,
              min_border_left=40, min_border_right=4, min_border_top=17, min_border_bottom=38)
left.extra_y_ranges = {"a": Range1d(-180, 20), "b": Range1d(-140, 60),
                       "c": Range1d(-100, 100), "d": Range1d(-60, 140)}
left.grid.visible = False
left.outline_line_color = "black"
left.outline_line_width = 1.2
style_title(left, "Vacuum/(LMO)\u2099/(STO)\u2082", 28)

xa = left.xaxis[0]
xa.ticker = FixedTicker(ticks=E_LABELLED, minor_ticks=E_MINOR)
xa.major_label_overrides = {t: str(t) for t in E_LABELLED}
xa.major_tick_in = 5
xa.major_tick_out = 0
xa.minor_tick_in = 5
xa.minor_tick_out = 0
xa.major_label_standoff = 3
xa.axis_label = NBSP * 6 + "Energy (eV)"
xa.axis_label_standoff = 1
style_axis(xa)
xa.axis_label_text_font_size = "15px"

ya = left.yaxis[0]
y_major = list(range(-20, 181, 20))
y_minor = list(range(-10, 171, 20))
ya.ticker = FixedTicker(ticks=y_major, minor_ticks=y_minor)
ya.major_label_overrides = {v: ("20" if v == 180 else ("0" if (v + 20) % 40 == 20 else "-20"))
                            for v in y_major}
ya.major_tick_in = 5
ya.major_tick_out = 0
ya.minor_tick_in = 5
ya.minor_tick_out = 0
ya.major_label_standoff = 4
ya.axis_label = "DOS/pDOS"
ya.axis_label_standoff = 1
style_axis(ya, "13px")
ya.axis_label_text_font_size = "15px"

left_panels = [
    ("a", "a", 1, -13.0, (a_total_up, a_total_dn, a_O_up, a_O_dn, a_Ti_up, a_Ti_dn, a_Mn_up, a_Mn_dn)),
    ("b", "b", 2, -12.0, (b_total_up, b_total_dn, b_O_up, b_O_dn, b_Ti_up, b_Ti_dn, b_Mn_up, b_Mn_dn)),
    ("c", "c", 3, -13.4, (c_total_up, c_total_dn, c_O_up, c_O_dn, c_Ti_up, c_Ti_dn, c_Mn_up, c_Mn_dn)),
    ("d", "d", 4, -13.3, (d_total_up, d_total_dn, d_O_up, d_O_dn, d_Ti_up, d_Ti_dn, d_Mn_up, d_Mn_dn)),
    ("default", "e", 5, -13.0, (e_total_up, e_total_dn, e_O_up, e_O_dn, e_Ti_up, e_Ti_dn, e_Mn_up, e_Mn_dn)),
]
letter_offsets = {"a": 20.4, "b": 21.3, "c": 20.4, "d": 21.3, "e": 20.4}
legend_rs = None
for rng, letter, n, ly, arrays in left_panels:
    rs = draw_dos(left, ENERGY, rng, *arrays)
    if legend_rs is None:
        legend_rs = rs
    common = dict(x=-1.05, y=ly, y_range_name=rng, text_baseline="middle",
                  text_font=SERIF, text_font_size="15px", text_color="black")
    off = letter_offsets[letter]
    left.add_layout(Label(text=f"({letter})", **common))
    left.add_layout(Label(text="n", x_offset=off, text_font_style="italic", **common))
    left.add_layout(Label(text=f"={n}", x_offset=off + 7.5, **common))
    if rng != "default":
        left.add_layout(Span(location=-20, dimension="width", y_range_name=rng,
                             line_color="black", line_width=1.2))
        left.segment(x0=E_TICKS, y0=[-20] * len(E_TICKS), x1=E_TICKS, y1=[-17.8] * len(E_TICKS),
                     line_color="black", line_width=1, y_range_name=rng)

left.add_layout(Span(location=0, dimension="height", line_color="black",
                     line_dash="4 3", line_width=1))

r_o, r_ti, r_mn, r_tot = legend_rs
leg = Legend(items=[LegendItem(label="O", renderers=[r_o]),
                    LegendItem(label="Ti", renderers=[r_ti]),
                    LegendItem(label="Mn", renderers=[r_mn]),
                    LegendItem(label="Total", renderers=[r_tot])],
             location="top_left", orientation="horizontal", glyph_width=31, glyph_height=12,
             label_standoff=5, spacing=1, padding=1, margin=1, label_height=14, label_width=1,
             border_line_color=None, background_fill_alpha=0,
             label_text_font=SERIF, label_text_font_size="15px")
left.add_layout(leg)

# ---------------- right column, DOS ----------------
rtop = figure(width=116, height=322, x_range=Range1d(-6, -1.81), y_range=Range1d(-20, 100),
              output_backend="svg", toolbar_location=None,
              min_border_left=4, min_border_right=0, min_border_top=17, min_border_bottom=28)
rtop.extra_y_ranges = {"ra": Range1d(-100, 20), "rb": Range1d(-60, 60)}
rtop.grid.visible = False
rtop.outline_line_color = None
style_title(rtop, "(LMO)\u2099/(STO)\u2082", 44)

rx = rtop.xaxis[0]
rx.ticker = FixedTicker(ticks=R_LABELLED, minor_ticks=R_MINOR)
rx.major_label_overrides = {t: str(t) for t in R_LABELLED}
rx.major_tick_in = 5
rx.major_tick_out = 0
rx.minor_tick_in = 5
rx.minor_tick_out = 0
rx.major_label_standoff = 1
rx.axis_label = NBSP * 14 + "Energy (eV)"
rx.axis_label_standoff = 0
style_axis(rx, "10px")
rx.axis_label_text_font_size = "14px"
rx.axis_line_width = 1.2

ry = rtop.yaxis[0]
ry.ticker = FixedTicker(ticks=[])
ry.major_tick_in = 0
ry.major_tick_out = 0
ry.minor_tick_in = 0
ry.minor_tick_out = 0
ry.major_label_standoff = 0
ry.axis_line_width = 1.2
ry.axis_line_color = "black"
rtop.add_layout(bare_axis(), "above")

right_panels = [
    ("ra", (ra_total_up, ra_total_dn, ra_O_up, ra_O_dn, ra_Ti_up, ra_Ti_dn, ra_Mn_up, ra_Mn_dn)),
    ("rb", (rb_total_up, rb_total_dn, rb_O_up, rb_O_dn, rb_Ti_up, rb_Ti_dn, rb_Mn_up, rb_Mn_dn)),
    ("default", (rc_total_up, rc_total_dn, rc_O_up, rc_O_dn, rc_Ti_up, rc_Ti_dn, rc_Mn_up, rc_Mn_dn)),
]
rlegend_rs = None
for rng, arrays in right_panels:
    rs = draw_dos(rtop, ENERGY_R, rng, *arrays)
    if rlegend_rs is None:
        rlegend_rs = rs
    if rng != "default":
        rtop.add_layout(Span(location=-20, dimension="width", y_range_name=rng,
                             line_color="black", line_width=1.2))
        rtop.segment(x0=R_TICKS, y0=[-20] * len(R_TICKS), x1=R_TICKS, y1=[-17.8] * len(R_TICKS),
                     line_color="black", line_width=1, y_range_name=rng)

q_o, q_ti, q_mn, q_tot = rlegend_rs
rleg = Legend(items=[LegendItem(label="O", renderers=[q_o]),
                     LegendItem(label="Ti", renderers=[q_ti]),
                     LegendItem(label="Mn", renderers=[q_mn]),
                     LegendItem(label="Total", renderers=[q_tot])],
              location="top_left", orientation="horizontal", glyph_width=34, glyph_height=12,
              label_standoff=4, spacing=2, padding=1, margin=1, label_height=14, label_width=1,
              border_line_color=None, background_fill_alpha=0,
              label_text_font=SERIF, label_text_font_size="15px")
rtop.add_layout(rleg)

# ---------------- right column, bottom panel ----------------
br = figure(width=116, height=194, x_range=Range1d(0.5, 2.83), y_range=Range1d(0, 1.56),
            output_backend="svg", toolbar_location=None,
            min_border_left=4, min_border_right=0, min_border_top=0, min_border_bottom=38)
br.grid.visible = False
br.outline_line_color = None
bx = br.xaxis[0]
bx.ticker = FixedTicker(ticks=thickness)
bx.major_tick_in = 0
bx.major_tick_out = 4
bx.minor_tick_in = 0
bx.minor_tick_out = 0
bx.major_label_standoff = 1
bx.axis_label = NBSP * 9 + "LMO thickness (u.c.)"
bx.axis_label_standoff = 0
style_axis(bx)
bx.axis_label_text_font_size = "15px"
bx.axis_line_width = 1.2
by = br.yaxis[0]
by.ticker = FixedTicker(ticks=[])
by.major_tick_in = 0
by.major_tick_out = 0
by.minor_tick_in = 0
by.minor_tick_out = 0
by.major_label_standoff = 0
by.axis_line_width = 1.2
by.axis_line_color = "black"
br.add_layout(bare_axis(), "above")

l_s = br.line(thickness, surface_vals, line_color="#ff2020", line_width=1.2)
m_s = br.scatter(thickness, surface_vals, marker="circle", size=10, fill_color="#ff0000",
                 line_color="#ff0000")
l_c = br.line(thickness, central_vals, line_color="black", line_width=1.2)
m_c = br.scatter(thickness, central_vals, marker="square", size=8, fill_color="black",
                 line_color="black")
l_sto = br.line([br.x_range.start, thickness[-1]], [sto_level, sto_level], line_color="#1f1fff",
                line_dash="6 4", line_width=1.3)
bleg = Legend(items=[LegendItem(label=legend_names_br[0], renderers=[l_s, m_s]),
                     LegendItem(label=legend_names_br[1], renderers=[l_c, m_c]),
                     LegendItem(label=legend_names_br[2], renderers=[l_sto])],
              location=(63, 7), orientation="vertical", glyph_width=36, glyph_height=14,
              label_standoff=4, spacing=4, padding=1, label_height=14, label_width=1,
              border_line_color=None, background_fill_alpha=0,
              label_text_font=SERIF, label_text_font_size="15px")
br.add_layout(bleg)

layout = row(left, column(rtop, br))
open("out.html", "w").write(file_html(layout, INLINE))
